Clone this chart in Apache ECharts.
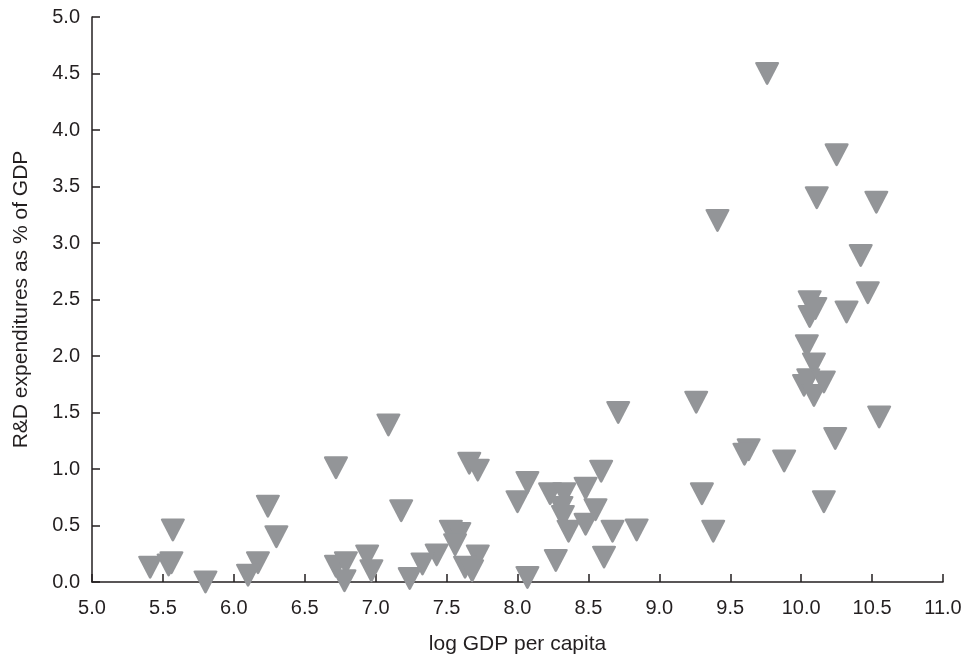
<!DOCTYPE html>
<html style="height: 100%">
<head>
    <meta charset="utf-8">
    <title>R&D vs log GDP per capita</title>
</head>
<body style="height: 100%; margin: 0">
<div id="container" style="width: 965px; height: 660px"></div>

<script src="https://cdn.jsdelivr.net/npm/echarts@6/dist/echarts.min.js"></script>
<script type="text/javascript">
// log GDP per capita (x) and R&D expenditures as % of GDP (y)
var logGdp = [
    9.76, 10.25, 10.11, 10.53, 9.41, 10.42, 10.47, 10.06, 10.10, 10.06,
    10.32, 10.04, 10.09, 10.05, 10.02, 10.16, 10.09, 9.26, 10.55, 10.24,
    9.63, 9.60, 9.88, 9.30, 10.16, 9.38,
    8.71, 7.66, 7.72, 8.59, 8.07, 8.00, 8.48, 8.23, 8.33, 8.31,
    8.32, 8.36, 8.55, 8.48, 8.67, 8.84, 8.61, 8.27, 8.07,
    7.53, 7.59, 7.56, 7.72, 7.63, 7.68, 7.43, 7.33, 7.24,
    7.09, 6.72, 7.18, 6.24, 6.30, 5.57, 5.41, 5.54, 5.56, 5.80,
    6.17, 6.10, 6.72, 6.79, 6.78, 6.94, 6.97
];
var rdShare = [
    4.50, 3.78, 3.40, 3.36, 3.20, 2.89, 2.56, 2.48, 2.42, 2.35,
    2.39, 2.09, 1.93, 1.79, 1.74, 1.77, 1.65, 1.59, 1.46, 1.27,
    1.17, 1.13, 1.07, 0.78, 0.71, 0.45,
    1.50, 1.05, 0.99, 0.98, 0.88, 0.71, 0.83, 0.78, 0.78, 0.66,
    0.58, 0.45, 0.64, 0.51, 0.45, 0.46, 0.22, 0.19, 0.04,
    0.45, 0.43, 0.33, 0.23, 0.13, 0.10, 0.24, 0.16, 0.03,
    1.39, 1.01, 0.63, 0.67, 0.40, 0.46, 0.13, 0.15, 0.17, 0.00,
    0.17, 0.06, 0.14, 0.17, 0.01, 0.23, 0.10
];

var points = [];
for (var i = 0; i < logGdp.length; i++) {
    points.push([logGdp[i], rdShare[i]]);
}

var font = '"Liberation Sans", Arial, sans-serif';
var ink = '#231f20';
var myChart = echarts.init(document.getElementById('container'));

var option = {
    backgroundColor: '#ffffff',
    animation: false,
    grid: {
        left: 92,
        right: 22,
        top: 17,
        bottom: 71,
        containLabel: false
    },
    xAxis: {
        type: 'value',
        min: 5,
        max: 11,
        interval: 0.5,
        name: 'log GDP per capita',
        nameLocation: 'middle',
        nameGap: 52,
        nameTextStyle: { color: ink, fontSize: 21, fontFamily: font },
        axisLine: { onZero: false, lineStyle: { color: ink, width: 1.5 } },
        axisTick: { inside: true, length: 8, lineStyle: { color: ink, width: 1.5 } },
        axisLabel: {
            color: ink, fontSize: 20, fontFamily: font, margin: 16,
            formatter: function (v) { return v.toFixed(1); }
        },
        splitLine: { show: false }
    },
    yAxis: {
        type: 'value',
        min: 0,
        max: 5,
        interval: 0.5,
        name: 'R&D expenditures as % of GDP',
        nameLocation: 'middle',
        nameGap: 60,
        nameTextStyle: { color: ink, fontSize: 21, fontFamily: font },
        axisLine: { show: true, lineStyle: { color: ink, width: 1.5 } },
        axisTick: { show: true, inside: true, length: 8, lineStyle: { color: ink, width: 1.5 } },
        axisLabel: {
            color: ink, fontSize: 20, fontFamily: font, margin: 12,
            formatter: function (v) { return v.toFixed(1); }
        },
        splitLine: { show: false }
    },
    series: [{
        type: 'scatter',
        data: points,
        // rounded down-pointing triangle
        symbol: 'path://M2,0 L22,0 Q24,0 23,2 L13.2,21.5 Q12,23.5 10.8,21.5 L1,2 Q0,0 2,0 Z',
        symbolSize: [24, 23],
        itemStyle: {
            color: '#939598',
            opacity: 1
        }
    }]
};
myChart.setOption(option);
</script>
</body>
</html>
